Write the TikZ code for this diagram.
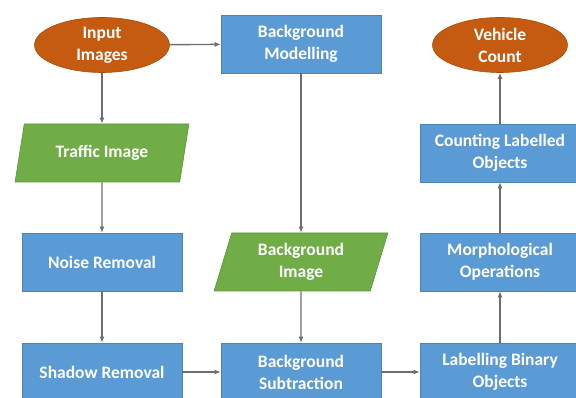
\documentclass[tikz,border=0pt]{standalone}
\usepackage{fontspec}
\setmainfont{Carlito}
\usetikzlibrary{shapes.geometric,arrows.meta}

\definecolor{boxblue}{HTML}{5B9BD5}
\definecolor{termorange}{HTML}{C55A11}
\definecolor{datagreen}{HTML}{70AD47}
\definecolor{flowgray}{HTML}{6E6E6E}

\tikzset{
  process/.style={rectangle,fill=boxblue,draw=boxblue!85!black,line width=0.6pt,
    minimum width=160pt,minimum height=58pt,text=white,align=center,
    font=\fontsize{17.5}{22}\selectfont\bfseries},
  terminal/.style={ellipse,fill=termorange,draw=termorange!85!black,line width=0.6pt,
    minimum width=135pt,minimum height=55pt,inner sep=0pt,text=white,align=center,
    font=\fontsize{17.5}{22}\selectfont\bfseries},
  data/.style={trapezium,trapezium left angle=75,trapezium right angle=105,
    trapezium stretches=true,fill=datagreen,draw=datagreen!85!black,line width=0.6pt,
    minimum width=174pt,minimum height=58pt,text=white,align=center,
    font=\fontsize{17.5}{22}\selectfont\bfseries},
  flow/.style={draw=flowgray,line width=1.4pt,-{Latex[length=6pt,width=5pt]}}
}

\begin{document}
\begin{tikzpicture}[x=1pt,y=1pt]
  \useasboundingbox (0,0) rectangle (576,398);

  % top row
  \node[terminal] (input) at (102,353) {Input\\Images};
  \node[process] (bgmodel) at (301,354) {Background\\Modelling};
  \node[terminal] (count) at (500,353) {Vehicle\\Count};

  % second row
  \node[data] (traffic) at (102,245) {Traffic Image};
  \node[process] (counting) at (500,245) {Counting Labelled\\Objects};

  % third row
  \node[process] (noise) at (102,136) {Noise Removal};
  \node[data] (bgimage) at (301,136) {Background\\Image};
  \node[process] (morph) at (500,136) {Morphological\\Operations};

  % bottom row
  \node[process] (shadow) at (102,26) {Shadow Removal};
  \node[process] (bgsub) at (301,26) {Background\\Subtraction};
  \node[process] (label) at (500,26) {Labelling Binary\\Objects};

  \draw[flow] (input) -- (bgmodel);
  \draw[flow] (input) -- (traffic);
  \draw[flow] (traffic) -- (noise);
  \draw[flow] (noise) -- (shadow);
  \draw[flow] (shadow) -- (bgsub);
  \draw[flow] (bgmodel) -- (bgimage);
  \draw[flow] (bgimage) -- (bgsub);
  \draw[flow] (bgsub) -- (label);
  \draw[flow] (label) -- (morph);
  \draw[flow] (morph) -- (counting);
  \draw[flow] (counting) -- (count);
\end{tikzpicture}
\end{document}
